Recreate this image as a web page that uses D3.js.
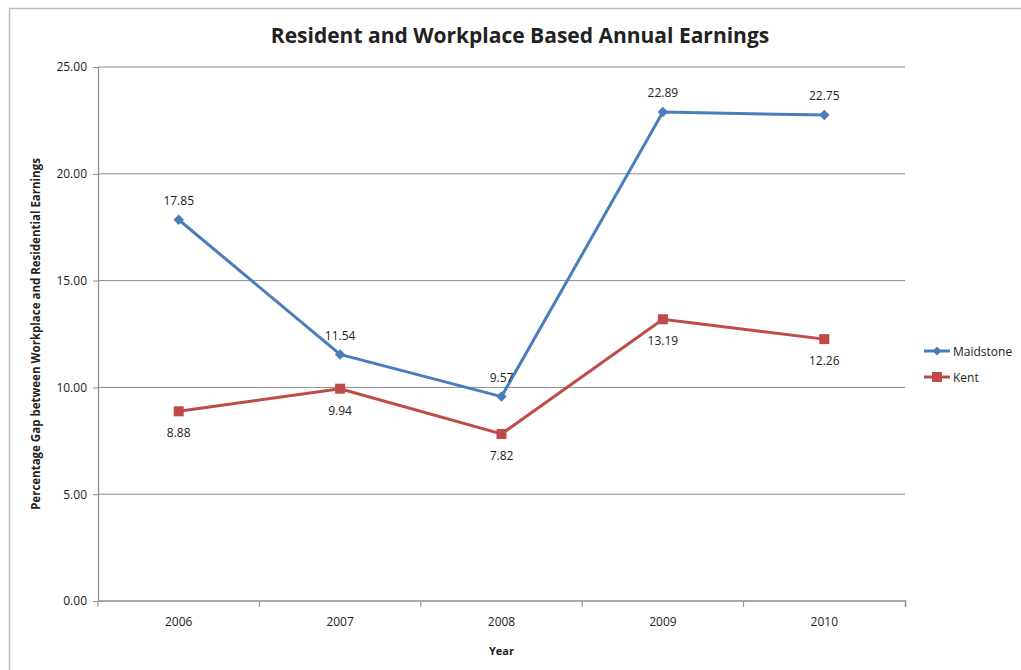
<!DOCTYPE html>
<html>
<head>
<meta charset="utf-8">
<script src="https://d3js.org/d3.v7.min.js"></script>
<style>
  body { margin: 0; background: #fff; }
  text { font-family: "Open Sans", "Liberation Sans", sans-serif; fill: #222; }
</style>
</head>
<body>
<div id="chart"></div>
<script>
var years = ["2006", "2007", "2008", "2009", "2010"];
var maidstone = [17.85, 11.54, 9.57, 22.89, 22.75];
var kent = [8.88, 9.94, 7.82, 13.19, 12.26];
var yTicks = [0, 5, 10, 15, 20, 25];

var W = 1021, H = 670;
var margin = {top: 67, right: 116, bottom: 69, left: 98},
    width = W - margin.left - margin.right,
    height = H - margin.top - margin.bottom;

var root = d3.select("#chart")
  .append("svg")
    .attr("width", W)
    .attr("height", H);

// outer chart border
root.append("rect")
  .attr("x", 9.5).attr("y", 8.5)
  .attr("width", W + 20).attr("height", H + 20)
  .attr("fill", "none")
  .attr("stroke", "#bcbcbc")
  .attr("stroke-width", 1.5);

var svg = root.append("g")
  .attr("transform", "translate(" + margin.left + "," + margin.top + ")");

var x = d3.scaleBand()
  .domain(years)
  .range([0, width]);

var y = d3.scaleLinear()
  .domain([0, 25])
  .range([height, 0]);

// gridlines
svg.selectAll("line.grid")
  .data(yTicks.filter(function(d) { return d > 0; }))
  .enter()
  .append("line")
    .attr("x1", 0).attr("x2", width)
    .attr("y1", function(d) { return y(d); })
    .attr("y2", function(d) { return y(d); })
    .attr("stroke", "#8c8c8c")
    .attr("stroke-width", 1);

// y axis
var yAxis = svg.append("g")
  .call(d3.axisLeft(y).tickValues(yTicks).tickFormat(d3.format(".2f")).tickSize(5).tickPadding(6));
yAxis.select(".domain").attr("stroke", "#8c8c8c").attr("stroke-width", 1.2);
yAxis.selectAll(".tick line").attr("stroke", "#8c8c8c");
yAxis.selectAll("text").style("font-size", "12px").attr("fill", "#222");

// x axis
var xAxis = svg.append("g")
  .attr("transform", "translate(0," + height + ")")
  .call(d3.axisBottom(x).tickSize(0).tickPadding(16));
xAxis.select(".domain").attr("stroke", "#8c8c8c").attr("stroke-width", 1.5)
  .attr("d", "M0.5,0H" + (width + 0.5) + "V6");
xAxis.selectAll("text").style("font-size", "12px").attr("fill", "#222");

// category boundary ticks
svg.selectAll("line.xtick")
  .data(years)
  .enter()
  .append("line")
    .attr("x1", function(d) { return x(d); })
    .attr("x2", function(d) { return x(d); })
    .attr("y1", height).attr("y2", height + 6)
    .attr("stroke", "#8c8c8c");

var line = d3.line()
  .x(function(d, i) { return x(years[i]) + x.bandwidth() / 2; })
  .y(function(d) { return y(d); });

var blue = "#4a7ebb", red = "#be4b48";

svg.append("path").datum(maidstone)
  .attr("d", line).attr("fill", "none").attr("stroke", blue).attr("stroke-width", 3);
svg.append("path").datum(kent)
  .attr("d", line).attr("fill", "none").attr("stroke", red).attr("stroke-width", 3);

// markers
svg.selectAll("path.dia")
  .data(maidstone)
  .enter()
  .append("path")
    .attr("d", d3.symbol().type(d3.symbolDiamond2).size(70))
    .attr("transform", function(d, i) {
      return "translate(" + (x(years[i]) + x.bandwidth() / 2) + "," + y(d) + ")";
    })
    .attr("fill", blue);

svg.selectAll("rect.sq")
  .data(kent)
  .enter()
  .append("rect")
    .attr("x", function(d, i) { return x(years[i]) + x.bandwidth() / 2 - 5; })
    .attr("y", function(d) { return y(d) - 5; })
    .attr("width", 10).attr("height", 10)
    .attr("fill", red);

// data labels
svg.selectAll("text.lm")
  .data(maidstone)
  .enter()
  .append("text")
    .attr("x", function(d, i) { return x(years[i]) + x.bandwidth() / 2; })
    .attr("y", function(d) { return y(d) - 15; })
    .attr("text-anchor", "middle")
    .style("font-size", "12px")
    .text(function(d) { return d3.format(".2f")(d); });

svg.selectAll("text.lk")
  .data(kent)
  .enter()
  .append("text")
    .attr("x", function(d, i) { return x(years[i]) + x.bandwidth() / 2; })
    .attr("y", function(d) { return y(d) + 26; })
    .attr("text-anchor", "middle")
    .style("font-size", "12px")
    .text(function(d) { return d3.format(".2f")(d); });

// title
root.append("text")
  .attr("x", 520).attr("y", 43)
  .attr("text-anchor", "middle")
  .style("font-size", "21px")
  .style("font-weight", "bold")
  .attr("fill", "#000")
  .text("Resident and Workplace Based Annual Earnings");

// axis titles
root.append("text")
  .attr("x", margin.left + width / 2).attr("y", 655)
  .attr("text-anchor", "middle")
  .style("font-size", "11px")
  .style("font-weight", "bold")
  .text("Year");

root.append("text")
  .attr("transform", "translate(40," + (margin.top + height / 2) + ") rotate(-90)")
  .attr("text-anchor", "middle")
  .style("font-size", "11.5px")
  .style("font-weight", "bold")
  .text("Percentage Gap between Workplace and Residential Earnings");

// legend
var legend = root.append("g").attr("transform", "translate(924,351)");
var series = [{name: "Maidstone", color: blue}, {name: "Kent", color: red}];
series.forEach(function(s, i) {
  var g = legend.append("g").attr("transform", "translate(0," + (i * 26) + ")");
  g.append("line").attr("x1", 0).attr("x2", 26).attr("y1", 0).attr("y2", 0)
    .attr("stroke", s.color).attr("stroke-width", 3);
  if (i === 0) {
    g.append("path").attr("d", d3.symbol().type(d3.symbolDiamond2).size(50))
      .attr("transform", "translate(13,0)").attr("fill", s.color);
  } else {
    g.append("rect").attr("x", 8).attr("y", -5).attr("width", 10).attr("height", 10)
      .attr("fill", s.color);
  }
  g.append("text").attr("x", 29).attr("y", 4.5)
    .style("font-size", "12px").text(s.name);
});
</script>
</body>
</html>
